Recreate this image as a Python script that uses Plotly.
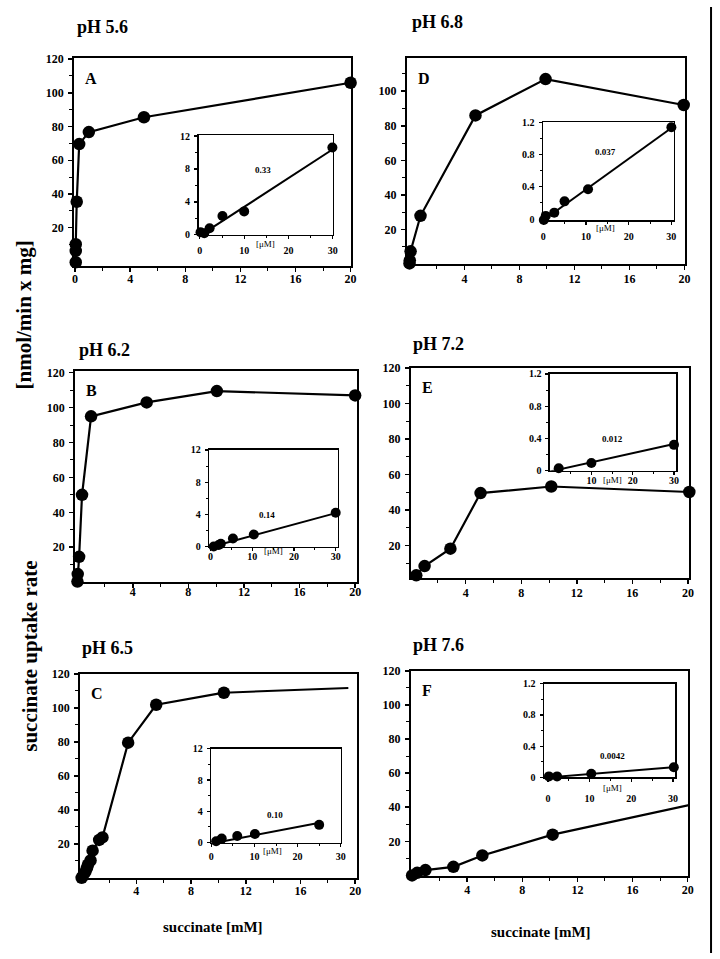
import plotly.graph_objects as go

W, H = 720, 959
FONT = "Liberation Serif"

# ---------------- data (main panels, succinate mM vs uptake rate) ----------------
A_x = [0.05, 0.05, 0.05, 0.12, 0.3, 1.0, 5.0, 20.0]
A_y = [-0.5, 6.2, 10.2, 35.4, 69.6, 76.7, 85.5, 106.0]
B_x = [0.02, 0.04, 0.14, 0.35, 1.0, 5.0, 10.05, 20.0]
B_y = [0.3, 4.6, 14.5, 50.0, 95.0, 103.0, 109.5, 107.0]
C_x = [0.0, 0.08, 0.27, 0.39, 0.46, 0.65, 0.8, 1.28, 1.52, 3.4, 5.45, 10.4]
C_y = [0.0, 1.0, 3.5, 5.8, 7.7, 10.2, 16.0, 22.3, 23.8, 79.5, 101.8, 108.9]
C_tail_x = [10.4, 19.5]
C_tail_y = [108.9, 111.7]
D_x = [0.0, 0.02, 0.08, 0.8, 4.8, 9.9, 19.95]
D_y = [0.5, 2.3, 7.5, 28.0, 86.0, 107.0, 92.0]
E_x = [0.04, 0.44, 1.04, 2.9, 5.07, 10.16, 20.1]
E_y = [0.7, 3.3, 8.5, 18.3, 49.6, 53.3, 50.2]
F_x = [0.0, 0.37, 0.97, 3.0, 5.1, 10.2, 20.1]
F_y = [0.0, 1.5, 3.1, 5.0, 11.7, 23.9, 41.2]

# ---------------- data (insets, succinate uM) ----------------
Ai_x = [0.15, 1.0, 2.2, 5.1, 10.0, 29.9]
Ai_y = [0.32, 0.2, 0.8, 2.3, 2.85, 10.6]
Ai_fit_x = [0.0, 30.0]
Ai_fit_y = [-0.1, 10.4]
Bi_x = [0.8, 2.0, 2.5, 5.4, 10.4, 30.0]
Bi_y = [0.0, 0.2, 0.35, 1.0, 1.5, 4.2]
Bi_fit_x = [0.5, 30.0]
Bi_fit_y = [0.0, 4.15]
Ci_x = [0.5, 1.1, 2.4, 6.0, 10.1, 25.0]
Ci_y = [-0.1, 0.16, 0.5, 0.83, 1.08, 2.26]
Ci_fit_x = [0.3, 24.8]
Ci_fit_y = [-0.1, 2.5]
Di_x = [0.15, 0.6, 2.6, 5.0, 10.5, 30.0]
Di_y = [-0.01, 0.04, 0.08, 0.22, 0.37, 1.14]
Di_fit_x = [0.0, 30.0]
Di_fit_y = [-0.015, 1.13]
Ei_x = [0.07, 2.1, 10.0, 30.0]
Ei_y = [-0.01, 0.03, 0.094, 0.32]
Ei_fit_x = [0.0, 30.0]
Ei_fit_y = [-0.01, 0.33]
Fi_x = [0.24, 2.2, 10.4, 30.2]
Fi_y = [0.013, 0.013, 0.047, 0.13]
Fi_fit_x = [0.0, 30.0]
Fi_fit_y = [0.0, 0.13]

# labels
titles = ["pH 5.6", "pH 6.2", "pH 6.5", "pH 6.8", "pH 7.2", "pH 7.6"]
letters = ["A", "B", "C", "D", "E", "F"]
slopes = ["0.33", "0.14", "0.10", "0.037", "0.012", "0.0042"]
main_xticks_A = [0, 4, 8, 12, 16, 20]
main_xticks = [4, 8, 12, 16, 20]
main_yticks = [20, 40, 60, 80, 100, 120]
inset_xticks = [0, 10, 20, 30]
inset_xticks_E = [10, 20, 30]
inset_yticks_big = [0, 4, 8, 12]
inset_yticks_small = [0, 0.4, 0.8, 1.2]
inset_yticktext_small = ["0", "0.4", "0.8", "1.2"]

# ---------------- layout geometry (pixels) ----------------
# box (left, right, top, bottom), x-range, y-range, x data, y data, x ticks, x-label standoff
mains = [
    ((72, 352, 52, 263), [-0.07, 20.0], [-3.0, 120.5], A_x, A_y, main_xticks_A, -4),
    ((73, 358, 369, 583), [-0.15, 20.1], [0.0, 121.0], B_x, B_y, main_xticks, -6),
    ((78, 358, 676, 883), [-0.12, 20.1], [-0.1, 120.0], C_x, C_y, main_xticks, -3),
    ((409, 691, 52, 261), [-0.19, 20.07], [-0.1, 119.0], D_x, D_y, main_xticks, -2),
    ((413, 695, 366, 579), [0.05, 20.1], [1.7, 120.0], E_x, E_y, main_xticks, -2),
    ((413, 694, 673, 881), [-0.09, 20.05], [-0.4, 120.0], F_x, F_y, main_xticks, -2),
]
insets = [
    ((198, 334, 130, 231), [-0.3, 30.0], [0, 12.1], Ai_x, Ai_y, Ai_fit_x, Ai_fit_y, inset_xticks, "big", 3),
    ((209, 339, 449, 547), [-0.24, 30.5], [0, 12.0], Bi_x, Bi_y, Bi_fit_x, Bi_fit_y, inset_xticks, "big", -3),
    ((211, 342, 752, 847), [0.0, 30.0], [0, 12.0], Ci_x, Ci_y, Ci_fit_x, Ci_fit_y, inset_xticks, "big", 1),
    ((547, 679, 117, 216), [0.0, 30.5], [-0.012, 1.2], Di_x, Di_y, Di_fit_x, Di_fit_y, inset_xticks, "small", 3),
    ((554, 682, 372, 470), [0.0, 30.6], [0, 1.2], Ei_x, Ei_y, Ei_fit_x, Ei_fit_y, inset_xticks_E, "small", -3),
    ((548, 681, 686, 781), [-0.9, 30.6], [0, 1.2], Fi_x, Fi_y, Fi_fit_x, Fi_fit_y, inset_xticks, "small", 8),
]
title_pos = [(73, 20), (75, 348), (78, 650), (412, 15), (413, 342), (413, 647)]
slope_pos = [(263, 165), (267, 515), (275, 819), (610, 147), (617, 438), (617, 759)]
um_pos = [(266, 240), (274, 551), (273, 856), (610, 224), (617, 480), (617, 792)]


def fx(px):
    return px / W


def fy(py):
    return 1 - py / H


fig = go.Figure()
layout = {}
annotations = []

for i, (box, xr, yr, xs, ys, xt, xstand) in enumerate(mains):
    n = i + 1
    sfx = "" if n == 1 else str(n)
    l, r, t, b = box
    fig.add_trace(go.Scatter(
        x=xs, y=ys, mode="lines+markers", xaxis="x" + sfx, yaxis="y" + sfx,
        line=dict(color="black", width=2.2),
        marker=dict(color="black", size=12.5),
        cliponaxis=False, showlegend=False, hoverinfo="skip"))
    if n == 3:
        fig.add_trace(go.Scatter(
            x=C_tail_x, y=C_tail_y, mode="lines", xaxis="x3", yaxis="y3",
            line=dict(color="black", width=2), cliponaxis=False, showlegend=False,
            hoverinfo="skip"))
    layout["xaxis" + sfx] = dict(
        domain=[fx(l), fx(r)], range=xr, anchor="y" + sfx,
        showline=True, linecolor="black", linewidth=2, mirror=True,
        showgrid=False, zeroline=False, ticks="outside", ticklen=4, tickwidth=1.5,
        tickcolor="black", tickvals=xt, ticktext=[str(v) for v in xt],
        minor=dict(tickvals=[2, 6, 10, 14, 18], ticks="outside", ticklen=3, tickcolor="black", tickwidth=1),
        tickfont=dict(family=FONT, size=12, color="black", weight="bold"),
        ticklabelstandoff=xstand, fixedrange=True)
    layout["yaxis" + sfx] = dict(
        domain=[fy(b), fy(t)], range=yr, anchor="x" + sfx,
        showline=True, linecolor="black", linewidth=2, mirror=True,
        showgrid=False, zeroline=False, ticks="outside", ticklen=4, tickwidth=1.5,
        tickcolor="black", tickvals=main_yticks, ticktext=[str(v) for v in main_yticks],
        minor=dict(tickvals=[10, 30, 50, 70, 90, 110], ticks="outside", ticklen=3, tickcolor="black", tickwidth=1),
        tickfont=dict(family=FONT, size=12, color="black", weight="bold"),
        ticklabelstandoff=2, fixedrange=True)
    tx, ty = title_pos[i]
    annotations.append(dict(x=fx(tx), y=fy(ty), xref="paper", yref="paper", text=titles[i],
                            showarrow=False, xanchor="left", yanchor="middle",
                            font=dict(family=FONT, size=18, color="black", weight="bold")))
    annotations.append(dict(x=fx(l + 9), y=fy(t + 20), xref="paper", yref="paper", text=letters[i],
                            showarrow=False, xanchor="left", yanchor="middle",
                            font=dict(family=FONT, size=16, color="black", weight="bold")))

for i, (box, xr, yr, xs, ys, fxs, fys, xt, kind, stand) in enumerate(insets):
    n = i + 7
    sfx = str(n)
    l, r, t, b = box
    fig.add_trace(go.Scatter(
        x=fxs, y=fys, mode="lines", xaxis="x" + sfx, yaxis="y" + sfx,
        line=dict(color="black", width=2), cliponaxis=False, showlegend=False,
        hoverinfo="skip"))
    fig.add_trace(go.Scatter(
        x=xs, y=ys, mode="markers", xaxis="x" + sfx, yaxis="y" + sfx,
        marker=dict(color="black", size=10), cliponaxis=False, showlegend=False,
        hoverinfo="skip"))
    if kind == "big":
        yv, ytxt, ymin = inset_yticks_big, [str(v) for v in inset_yticks_big], [2, 6, 10]
    else:
        yv, ytxt, ymin = inset_yticks_small, inset_yticktext_small, [0.2, 0.6, 1.0]
    layout["xaxis" + sfx] = dict(
        domain=[fx(l), fx(r)], range=xr, anchor="y" + sfx,
        showline=True, linecolor="black", linewidth=1.6, mirror=True,
        showgrid=False, zeroline=False, ticks="outside", ticklen=3, tickwidth=1.2,
        tickcolor="black", tickvals=xt, ticktext=[str(v) for v in xt],
        minor=dict(tickvals=[5, 15, 25], ticks="outside", ticklen=2, tickcolor="black", tickwidth=1),
        tickfont=dict(family=FONT, size=10, color="black", weight="bold"),
        ticklabelstandoff=stand, fixedrange=True)
    layout["yaxis" + sfx] = dict(
        domain=[fy(b), fy(t)], range=yr, anchor="x" + sfx,
        showline=True, linecolor="black", linewidth=1.6, mirror=True,
        showgrid=False, zeroline=False, ticks="outside", ticklen=3, tickwidth=1.2,
        tickcolor="black", tickvals=yv, ticktext=ytxt,
        minor=dict(tickvals=ymin, ticks="outside", ticklen=2, tickcolor="black", tickwidth=1),
        tickfont=dict(family=FONT, size=10, color="black", weight="bold"),
        ticklabelstandoff=2, fixedrange=True)
    sx, sy = slope_pos[i]
    annotations.append(dict(x=fx(sx), y=fy(sy), xref="paper", yref="paper", text=slopes[i],
                            showarrow=False, xanchor="center", yanchor="middle",
                            font=dict(family=FONT, size=9, color="black", weight="bold")))
    ux, uy = um_pos[i]
    annotations.append(dict(x=fx(ux), y=fy(uy), xref="paper", yref="paper", text="[μM]",
                            showarrow=False, xanchor="center", yanchor="middle",
                            font=dict(family=FONT, size=9, color="black")))

# axis titles
annotations.append(dict(x=fx(21), y=fy(312), xref="paper", yref="paper", text="[nmol/min x mg]",
                        showarrow=False, textangle=-90, xanchor="center", yanchor="middle",
                        font=dict(family=FONT, size=21, color="black", weight="bold")))
annotations.append(dict(x=fx(27), y=fy(658), xref="paper", yref="paper", text="succinate uptake rate",
                        showarrow=False, textangle=-90, xanchor="center", yanchor="middle",
                        font=dict(family=FONT, size=21, color="black", weight="bold")))
annotations.append(dict(x=fx(213), y=fy(933), xref="paper", yref="paper", text="succinate [mM]",
                        showarrow=False, xanchor="center", yanchor="middle",
                        font=dict(family=FONT, size=15, color="black", weight="bold")))
annotations.append(dict(x=fx(545), y=fy(938), xref="paper", yref="paper", text="succinate [mM]",
                        showarrow=False, xanchor="center", yanchor="middle",
                        font=dict(family=FONT, size=15, color="black", weight="bold")))

fig.update_layout(
    width=W, height=H, margin=dict(l=0, r=0, t=0, b=0),
    paper_bgcolor="white", plot_bgcolor="white", showlegend=False,
    hovermode=False,
    annotations=annotations,
    shapes=[dict(type="line", xref="paper", yref="paper", x0=fx(717), x1=fx(717), y0=0, y1=1,
                 line=dict(color="black", width=2))],
    **layout)

fig.write_html("out.html",
               config={"displayModeBar": False, "staticPlot": True},
               post_script="document.body.style.margin='0';document.body.style.overflow='hidden';")
